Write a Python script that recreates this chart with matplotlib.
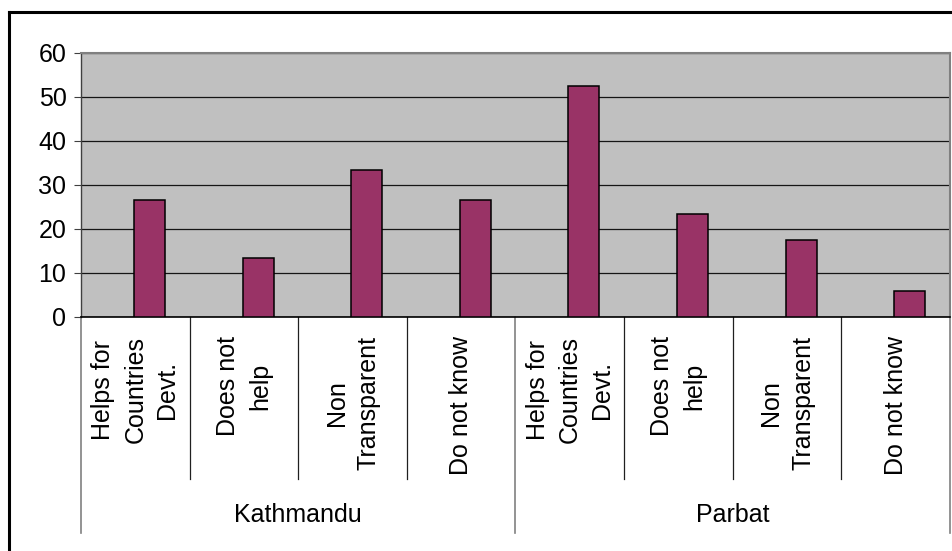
#!/usr/bin/env python3
"""Excel-style grouped category chart: opinions in Kathmandu and Parbat."""

import matplotlib
matplotlib.use("Agg")
import matplotlib.pyplot as plt
import numpy as np
from matplotlib.lines import Line2D

plt.rcParams["font.family"] = ["Liberation Sans", "DejaVu Sans"]

GROUPS = ["Kathmandu", "Parbat"]
CATEGORIES = ["Helps for\nCountries\nDevt.", "Does not\nhelp", "Non\nTransparent", "Do not know"]
KATHMANDU = [26.7, 13.3, 33.3, 26.7]
PARBAT = [52.6, 23.5, 17.6, 5.9]
Y_TICKS = [0, 10, 20, 30, 40, 50, 60]

BAR_COLOR = "#993366"
BG_COLOR = "#C0C0C0"
FONT_SIZE = 18


def main() -> None:
    fig = plt.figure(figsize=(9.53, 5.51), dpi=100)
    W, H = 953, 551
    left, right, top, bottom = 81, 950, 53, 317
    ax = fig.add_axes([left / W, (H - bottom) / H, (right - left) / W, (bottom - top) / H])

    values = KATHMANDU + PARBAT
    labels = CATEGORIES * len(GROUPS)
    x = np.arange(len(values))

    ax.set_facecolor(BG_COLOR)
    ax.bar(x + 0.13, values, width=0.285, color=BAR_COLOR, edgecolor="black", linewidth=1.1, zorder=3)

    ax.set_xlim(-0.5, len(values) - 0.5)
    ax.set_ylim(0, 60)
    ax.set_yticks(Y_TICKS)
    ax.tick_params(axis="y", labelsize=FONT_SIZE, length=5, width=0.8, pad=5.5, color="#404040")
    ax.set_xticks([])
    ax.yaxis.grid(True, color="#151515", linewidth=0.9, zorder=1)
    ax.set_axisbelow(True)

    for side in ("top", "right"):
        ax.spines[side].set_color("#808080")
        ax.spines[side].set_linewidth(1.5)
    ax.spines["left"].set_color("#404040")
    ax.spines["left"].set_linewidth(1.0)
    ax.spines["bottom"].set_color("black")
    ax.spines["bottom"].set_linewidth(1.2)

    px = bottom - top
    trans = ax.get_xaxis_transform()
    short_end = -(479 - bottom) / px
    long_end = -(533 - bottom) / px
    label_top = -(336 - bottom) / px
    group_y = -(515 - bottom) / px

    n = len(CATEGORIES)
    for k in range(len(values) + 1):
        xb = k - 0.5
        if k % n == 0:
            ax.plot([xb, xb], [0, long_end], transform=trans, clip_on=False, color="#808080", linewidth=1.2)
        else:
            ax.plot([xb, xb], [0, short_end], transform=trans, clip_on=False, color="#202020", linewidth=0.9)

    for xi, lab in zip(x, labels):
        ax.text(xi, label_top, lab, transform=trans, rotation=90, ha="center", va="top",
                multialignment="center", fontsize=FONT_SIZE, linespacing=1.42)

    for g, name in enumerate(GROUPS):
        ax.text(g * n + (n - 1) / 2, group_y, name, transform=trans, ha="center", va="center",
                fontsize=FONT_SIZE)

    # outer chart border (only left and top visible in the frame)
    fig.add_artist(Line2D([9 / W, 9 / W], [0, 1 - 12 / H], color="black", linewidth=2.2))
    fig.add_artist(Line2D([9 / W, 1], [1 - 12 / H, 1 - 12 / H], color="black", linewidth=2.2))

    fig.savefig("out.png", dpi=100)
    plt.close(fig)


if __name__ == "__main__":
    main()
